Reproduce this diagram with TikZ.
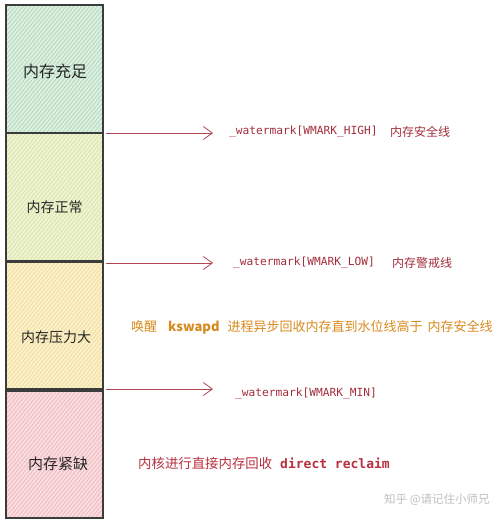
\documentclass[tikz,border=0pt]{standalone}
\usepackage{fontspec}
\usetikzlibrary{arrows.meta,patterns.meta}
\newfontfamily\cjk{Noto Sans CJK SC}
\newfontfamily\monof{DejaVu Sans Mono}
\definecolor{edgegray}{HTML}{3C3C3C}
\definecolor{gfill}{HTML}{DDEFE0}\definecolor{gline}{HTML}{A8D6B4}
\definecolor{yfill}{HTML}{F0F3D2}\definecolor{yline}{HTML}{D3E0A0}
\definecolor{ofill}{HTML}{FAF0CC}\definecolor{oline}{HTML}{EFD98C}
\definecolor{pfill}{HTML}{F9DCDE}\definecolor{pline}{HTML}{EDB2B9}
\definecolor{wmred}{HTML}{A32E3C}
\definecolor{arrred}{HTML}{B04652}
\definecolor{orangetxt}{HTML}{D98A1E}
\definecolor{redtxt}{HTML}{B8303E}
\tikzset{
  zone/.style={draw=edgegray, line width=1.1pt},
  zonelabel/.style={font=\cjk\fontsize{14}{16}\selectfont, text=black!85},
  wmark/.style={-{Straight Barb[length=9pt,width=13pt,line width=0.8pt]}, draw=arrred, line width=0.8pt},
  codetxt/.style={font=\monof\fontsize{11.2}{13}\selectfont, text=wmred, anchor=west, inner sep=0pt},
  cntxt/.style={font=\cjk\fontsize{12}{14}\selectfont, text=wmred, anchor=west, inner sep=0pt},
}
\begin{document}
\begin{tikzpicture}[x=1pt,y=1pt]
\useasboundingbox[fill=white] (0,0) rectangle (500,-524);
% zones
\fill[gfill] (6,-5) rectangle (103,-133);
\fill[pattern={Lines[angle=50,distance=3pt,line width=0.6pt]}, pattern color=gline] (6,-5) rectangle (103,-133);
\fill[yfill] (6,-133) rectangle (103,-261);
\fill[pattern={Lines[angle=50,distance=3pt,line width=0.6pt]}, pattern color=yline] (6,-133) rectangle (103,-261);
\fill[ofill] (6,-262) rectangle (103,-389);
\fill[pattern={Lines[angle=50,distance=3pt,line width=0.6pt]}, pattern color=oline] (6,-262) rectangle (103,-389);
\fill[pfill] (6,-391) rectangle (103,-518);
\fill[pattern={Lines[angle=50,distance=3pt,line width=0.6pt]}, pattern color=pline] (6,-391) rectangle (103,-518);
\node[zone, minimum width=97pt, minimum height=128pt, inner sep=0pt] (z1) at (54.5,-69) {};
\node[zone, minimum width=97pt, minimum height=128pt, inner sep=0pt] (z2) at (54.5,-197) {};
\node[zone, minimum width=97pt, minimum height=127pt, inner sep=0pt] (z3) at (54.5,-325.5) {};
\node[zone, minimum width=97pt, minimum height=127pt, inner sep=0pt] (z4) at (54.5,-454.5) {};
\node[zonelabel, font=\cjk\fontsize{16}{18}\selectfont] (l1) at (55,-71) {内存充足};
\node[zonelabel] (l2) at (54.5,-207) {内存正常};
\node[zonelabel] (l3) at (56,-337) {内存压力大};
\node[zonelabel, font=\cjk\fontsize{15}{17}\selectfont] (l4) at (58,-464) {内存紧缺};
% watermark arrows
\coordinate (a1s) at (106,-133); \coordinate (a1e) at (213,-133);
\coordinate (a2s) at (106,-263); \coordinate (a2e) at (213,-263);
\coordinate (a3s) at (106,-389); \coordinate (a3e) at (213,-389);
\draw[wmark] (a1s) -- (a1e);
\draw[wmark] (a2s) -- (a2e);
\draw[wmark] (a3s) -- (a3e);
\node[codetxt] (t1) at (229,-132) {\_watermark[WMARK\_HIGH]};
\node[cntxt] (c1) at (390,-132) {内存安全线};
\node[codetxt] (t2) at (233,-263) {\_watermark[WMARK\_LOW]};
\node[cntxt] (c2) at (392,-263) {内存警戒线};
\node[codetxt] (t3) at (235,-394) {\_watermark[WMARK\_MIN]};
% descriptions
\node[anchor=west, inner sep=0pt, text=orangetxt, font=\cjk\fontsize{13}{15}\selectfont] (d1) at (131,-327) {唤醒\hspace{11pt}\textbf{kswapd}\hspace{8pt}进程异步回收内存直到水位线高于\hspace{5pt}内存安全线};
\node[anchor=west, inner sep=0pt, text=redtxt] (d2) at (138,-463) {{\cjk\fontsize{13.4}{15}\selectfont 内核进行直接内存回收}\hspace{8pt}{\monof\bfseries\fontsize{13}{15}\selectfont direct reclaim}};
\node[anchor=west, inner sep=0pt, text=black!25, font=\cjk\fontsize{11.5}{13}\selectfont] (wm) at (384,-500) {知乎 @请记住小师兄};
\end{tikzpicture}
\end{document}
